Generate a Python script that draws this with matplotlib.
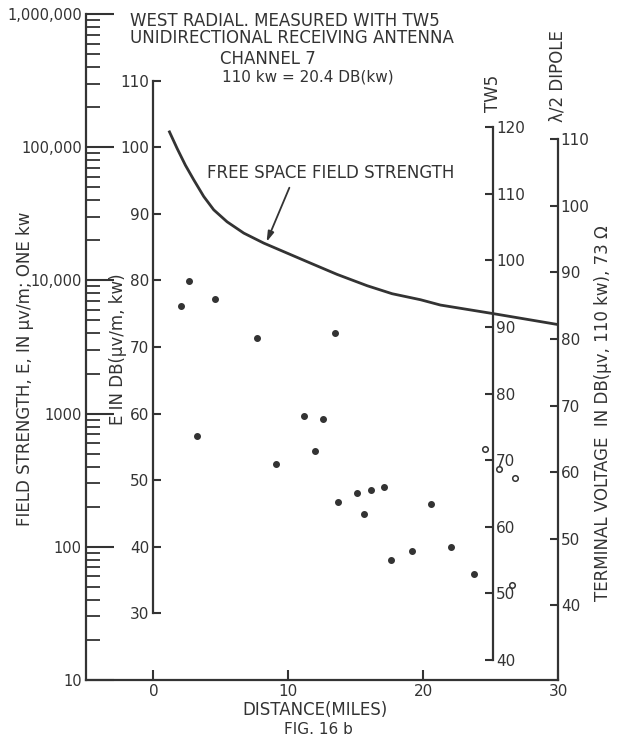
import matplotlib
matplotlib.use("Agg")
import matplotlib.pyplot as plt
from matplotlib.ticker import FixedLocator, NullFormatter
import numpy as n

# free space field strength curve (miles, dB uv/m for 1 kw)
fs_dist = [1.19, 1.76, 2.37, 2.99, 3.73, 4.47, 5.46, 6.70, 8.18, 9.91,
           11.64, 13.62, 15.85, 17.7, 19.8, 21.28, 25.23, 30.2]
fs_db = [102.3, 99.8, 97.3, 95.1, 92.6, 90.6, 88.8, 87.1, 85.6, 84.1,
         82.6, 80.9, 79.2, 78.0, 77.1, 76.3, 75.0, 73.3]

# measured points (filled dots)
meas_dist = [2.07, 2.62, 3.23, 4.57, 7.68, 9.1, 11.2, 12.0, 12.6, 13.5,
             13.7, 15.1, 15.6, 16.1, 17.1, 17.6, 19.2, 20.6, 22.1, 23.8]
meas_db = [76.2, 79.9, 56.6, 77.2, 71.3, 52.5, 59.6, 54.4, 59.2, 72.1,
           46.7, 48.1, 44.9, 48.6, 49.0, 38.0, 39.3, 46.4, 40.0, 35.9]

# open circles
open_dist = [24.6, 25.6, 26.8, 26.6]
open_db = [54.7, 51.7, 50.4, 34.2]

fs_ticks = [10, 100, 1000, 10000, 100000, 1000000]
fs_labels = ["10", "100", "1000", "10,000", "100,000", "1,000,000"]
db_ticks = [30, 40, 50, 60, 70, 80, 90, 100, 110]
tw5_ticks = [40, 50, 60, 70, 80, 90, 100, 110, 120]
dip_ticks = [40, 50, 60, 70, 80, 90, 100, 110]
dist_ticks = [0, 10, 20, 30]

tw5_off = 17.0     # TW5 scale = E dB + offset
dip_off = 8.8      # dipole scale = E dB + offset
tw5_pos = 25.2     # miles where the TW5 scale sits

ink = "#333333"
W, H = 621.0, 740.0
fsz = 12
tsz = 11

fig = plt.figure(figsize=(6.21, 7.40), dpi=100)
ax = fig.add_axes([86/W, 1-680/H, 472/W, 666/H])
ax.set_xlim(-5, 30)
ax.set_ylim(20, 120)

def ftxt(x, y, s, **kw):
    kw.setdefault("color", ink)
    kw.setdefault("fontsize", fsz)
    fig.text(x/W, 1-y/H, s, **kw)

# curve + points
ax.plot(fs_dist, fs_db, color=ink, lw=2.0, solid_joinstyle="round")
ax.plot(meas_dist, meas_db, "o", color=ink, ms=4)
ax.plot(open_dist, open_db, "o", mfc="white", mec=ink, mew=1.1, ms=4)

# inner E dB scale at distance 0
for s in ["top", "right"]:
    ax.spines[s].set_visible(False)
ax.spines["left"].set_position(("data", 0))
ax.spines["left"].set_bounds(30, 110)
for s in ["left", "bottom"]:
    ax.spines[s].set_color(ink)
    ax.spines[s].set_linewidth(1.6)
ax.set_yticks(db_ticks)
ax.set_yticklabels([str(v) for v in db_ticks])
ax.set_xticks(dist_ticks)
ax.set_xticklabels([str(v) for v in dist_ticks])
ax.tick_params(axis="y", direction="in", length=6, width=1.5, color=ink,
               labelcolor=ink, labelsize=tsz, pad=3)
ax.tick_params(axis="x", direction="in", length=7, width=1.5, color=ink,
               labelcolor=ink, labelsize=tsz, pad=3)

# outer log scale (field strength uv/m)
axl = ax.twinx()
axl.set_yscale("log")
axl.set_ylim(10, 1e6)
for s in ["top", "right", "bottom"]:
    axl.spines[s].set_visible(False)
axl.spines["left"].set_visible(True)
axl.spines["left"].set_color(ink)
axl.spines["left"].set_linewidth(1.6)
axl.yaxis.set_ticks_position("left")
axl.yaxis.set_label_position("left")
axl.yaxis.set_major_locator(FixedLocator(fs_ticks))
axl.set_yticklabels(fs_labels)
minors = [m*d for d in fs_ticks[:-1] for m in range(2, 10)]
axl.yaxis.set_minor_locator(FixedLocator(minors))
axl.yaxis.set_minor_formatter(NullFormatter())
axl.tick_params(axis="y", which="major", direction="in", length=20, width=1.5,
                color=ink, labelcolor=ink, labelsize=10.5, pad=3)
axl.tick_params(axis="y", which="minor", direction="in", length=10, width=1.3, color=ink)

# TW5 scale
axt = ax.twinx()
axt.set_ylim(20 + tw5_off, 120 + tw5_off)
for s in ["top", "left", "bottom"]:
    axt.spines[s].set_visible(False)
axt.spines["right"].set_position(("axes", (tw5_pos + 5) / 35.0))
axt.spines["right"].set_bounds(40, 120)
axt.spines["right"].set_color(ink)
axt.spines["right"].set_linewidth(1.6)
axt.set_yticks(tw5_ticks)
axt.set_yticklabels([str(v) for v in tw5_ticks])
axt.tick_params(axis="y", direction="in", length=6, width=1.5, color=ink,
                labelcolor=ink, labelsize=tsz, pad=2)

# half wave dipole scale
axd = ax.twinx()
axd.set_ylim(20 + dip_off, 120 + dip_off)
for s in ["top", "left", "bottom"]:
    axd.spines[s].set_visible(False)
axd.spines["right"].set_bounds(20 + dip_off, 110)
axd.spines["right"].set_color(ink)
axd.spines["right"].set_linewidth(1.6)
axd.set_yticks(dip_ticks)
axd.set_yticklabels([str(v) for v in dip_ticks])
axd.tick_params(axis="y", direction="in", length=6, width=1.5, color=ink,
                labelcolor=ink, labelsize=tsz, pad=2)

# annotation
ax.annotate("", xy=(8.31, 85.4), xytext=(10.16, 94.3),
            arrowprops=dict(arrowstyle="-|>,head_length=0.6,head_width=0.18",
                            color=ink, lw=1.3))
ftxt(207, 173, "FREE SPACE FIELD STRENGTH", ha="left", va="center")

# titles
ftxt(130, 21, "WEST RADIAL. MEASURED WITH TW5", ha="left", va="center")
ftxt(130, 38, "UNIDIRECTIONAL RECEIVING ANTENNA", ha="left", va="center")
ftxt(220, 59, "CHANNEL 7", ha="left", va="center")
ftxt(222, 77, "110 kw = 20.4 DB(kw)", ha="left", va="center", fontsize=11)

# axis labels
ftxt(25, 369, "FIELD STRENGTH, E, IN \u03bcv/m; ONE kw", rotation=90, ha="center", va="center")
ftxt(118, 349, "E IN DB(\u03bcv/m, kw)", rotation=90, ha="center", va="center")
ftxt(603, 413, "TERMINAL VOLTAGE  IN DB(\u03bcv, 110 kw), 73 \u03a9", rotation=90,
     ha="center", va="center")
ftxt(493, 93, "TW5", rotation=90, ha="center", va="center")
ftxt(557, 76, "\u03bb/2 DIPOLE", rotation=90, ha="center", va="center")
ftxt(315, 710, "DISTANCE(MILES)", ha="center", va="center")
ftxt(318, 730, "FIG. 16 b", ha="center", va="center", fontsize=11)

fig.savefig("out.png", dpi=100)
